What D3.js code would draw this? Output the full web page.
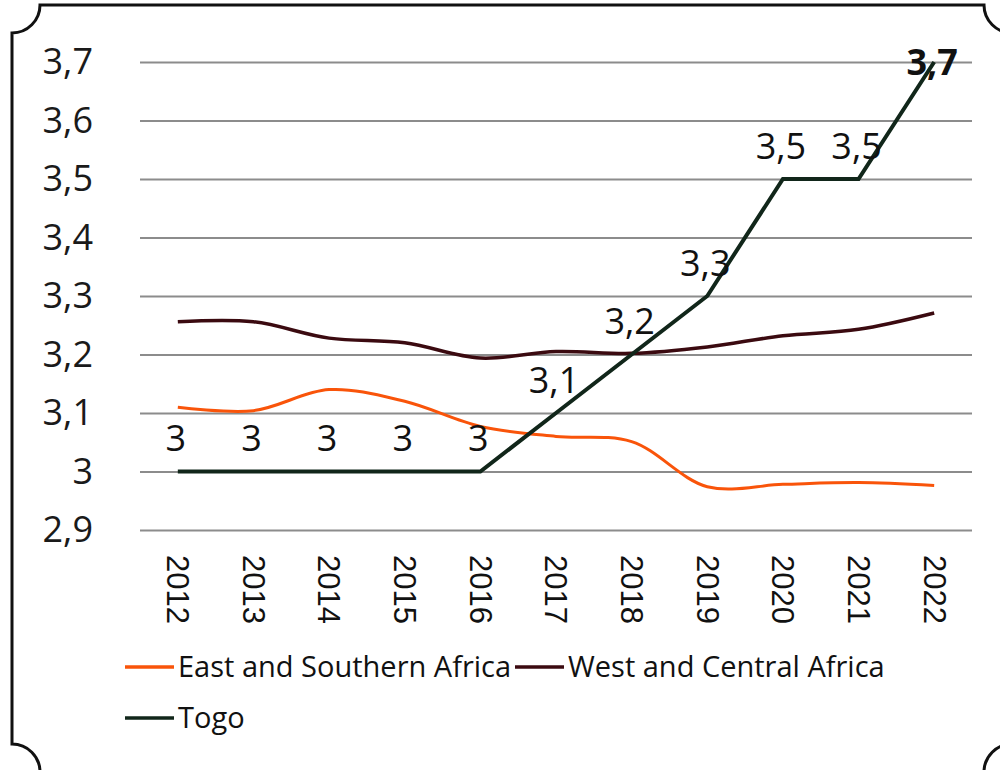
<!DOCTYPE html>
<html>
<head>
<meta charset="utf-8">
<script src="https://cdn.jsdelivr.net/npm/d3@7"></script>
<style>
  body { margin: 0; background: #fff; }
  svg { display: block; }
</style>
</head>
<body>
<svg id="chart" width="1000" height="770"></svg>
<script>
// data
let years = ["2012", "2013", "2014", "2015", "2016", "2017", "2018", "2019", "2020", "2021", "2022"];
let eastSouth = [3.11, 3.104, 3.14, 3.12, 3.077, 3.06, 3.051, 2.974, 2.978, 2.981, 2.976];
let westCentral = [3.256, 3.256, 3.228, 3.22, 3.194, 3.205, 3.202, 3.213, 3.232, 3.243, 3.271];
let togo = [3, 3, 3, 3, 3, 3.1, 3.2, 3.3, 3.5, 3.5, 3.7];
let yTicks = [2.9, 3.0, 3.1, 3.2, 3.3, 3.4, 3.5, 3.6, 3.7];

let svg = d3.select("#chart"),
    width = +svg.attr("width"),
    height = +svg.attr("height");

let fmt = v => d3.format(".1~f")(v).replace(".", ",");

let x = d3.scalePoint()
    .domain(years)
    .range([140, 972])
    .padding(0.5);

let y = d3.scaleLinear()
    .domain([2.9, 3.7])
    .range([530, 62]);

// ticket-like frame with notched corners
svg.append("path")
    .attr("d", "M40,5 L984,5 A28,28 0 0 0 1012,33 L1012,744 A28,28 0 0 0 984,772 L40,772 A28,28 0 0 0 12,744 L12,33 A28,28 0 0 0 40,5 Z")
    .attr("fill", "none")
    .attr("stroke", "#111")
    .attr("stroke-width", 3);

// gridlines + y labels
let yAxis = svg.append("g")
    .attr("transform", "translate(140,0)")
    .call(d3.axisLeft(y).tickValues(yTicks).tickSize(-832).tickFormat(fmt).tickPadding(47));
yAxis.select(".domain").remove();
yAxis.selectAll(".tick line").attr("stroke", "#8c8c8c").attr("stroke-width", 2);
yAxis.selectAll(".tick text")
    .attr("font-family", "'Open Sans', sans-serif")
    .attr("font-size", 36)
    .attr("fill", "#1a1a1a");

// x labels, rotated
let xAxis = svg.append("g")
    .attr("transform", "translate(0,555)")
    .call(d3.axisBottom(x).tickSize(0).tickPadding(0));
xAxis.select(".domain").remove();
xAxis.selectAll(".tick text")
    .attr("font-family", "'Liberation Sans', Arial, sans-serif")
    .attr("font-size", 31)
    .attr("fill", "#111")
    .attr("text-anchor", "start")
    .attr("transform", "rotate(90)")
    .attr("x", 0)
    .attr("y", 0)
    .attr("dy", "0.36em");

let smooth = d3.line()
    .x((d, i) => x(years[i]))
    .y(d => y(d))
    .curve(d3.curveCatmullRom.alpha(0.5));

let straight = d3.line()
    .x((d, i) => x(years[i]))
    .y(d => y(d));

svg.append("path")
    .datum(eastSouth)
    .attr("d", smooth)
    .attr("fill", "none")
    .attr("stroke", "#f9540a")
    .attr("stroke-width", 3);

svg.append("path")
    .datum(westCentral)
    .attr("d", smooth)
    .attr("fill", "none")
    .attr("stroke", "#3b0a10")
    .attr("stroke-width", 3.5);

svg.append("path")
    .datum(togo)
    .attr("d", straight)
    .attr("fill", "none")
    .attr("stroke", "#11261a")
    .attr("stroke-width", 4)
    .attr("stroke-linejoin", "miter");

// Togo data labels
svg.append("g").selectAll("text")
    .data(togo)
    .enter().append("text")
    .attr("x", (d, i) => x(years[i]) - 2)
    .attr("y", d => Math.max(y(d) - 33, 62))
    .attr("dy", "0.36em")
    .attr("text-anchor", "middle")
    .attr("font-family", "'Open Sans', sans-serif")
    .attr("font-size", 36)
    .attr("font-weight", (d, i) => i === togo.length - 1 ? "bold" : null)
    .attr("fill", "#111")
    .text(fmt);

// legend
let legendItems = [
  { name: "East and Southern Africa", color: "#f9540a", x: 125, y: 667 },
  { name: "West and Central Africa", color: "#3b0a10", x: 515, y: 667 },
  { name: "Togo", color: "#11261a", x: 125, y: 718 }
];
let legend = svg.append("g").selectAll("g")
    .data(legendItems)
    .enter().append("g")
    .attr("transform", d => "translate(" + d.x + "," + d.y + ")");
legend.append("line")
    .attr("x1", 0).attr("x2", 49)
    .attr("stroke", d => d.color)
    .attr("stroke-width", 3.5);
legend.append("text")
    .attr("x", 53)
    .attr("dy", "0.36em")
    .attr("font-family", "'Open Sans', sans-serif")
    .attr("font-size", 29)
    .attr("fill", "#111")
    .text(d => d.name);
</script>
</body>
</html>
